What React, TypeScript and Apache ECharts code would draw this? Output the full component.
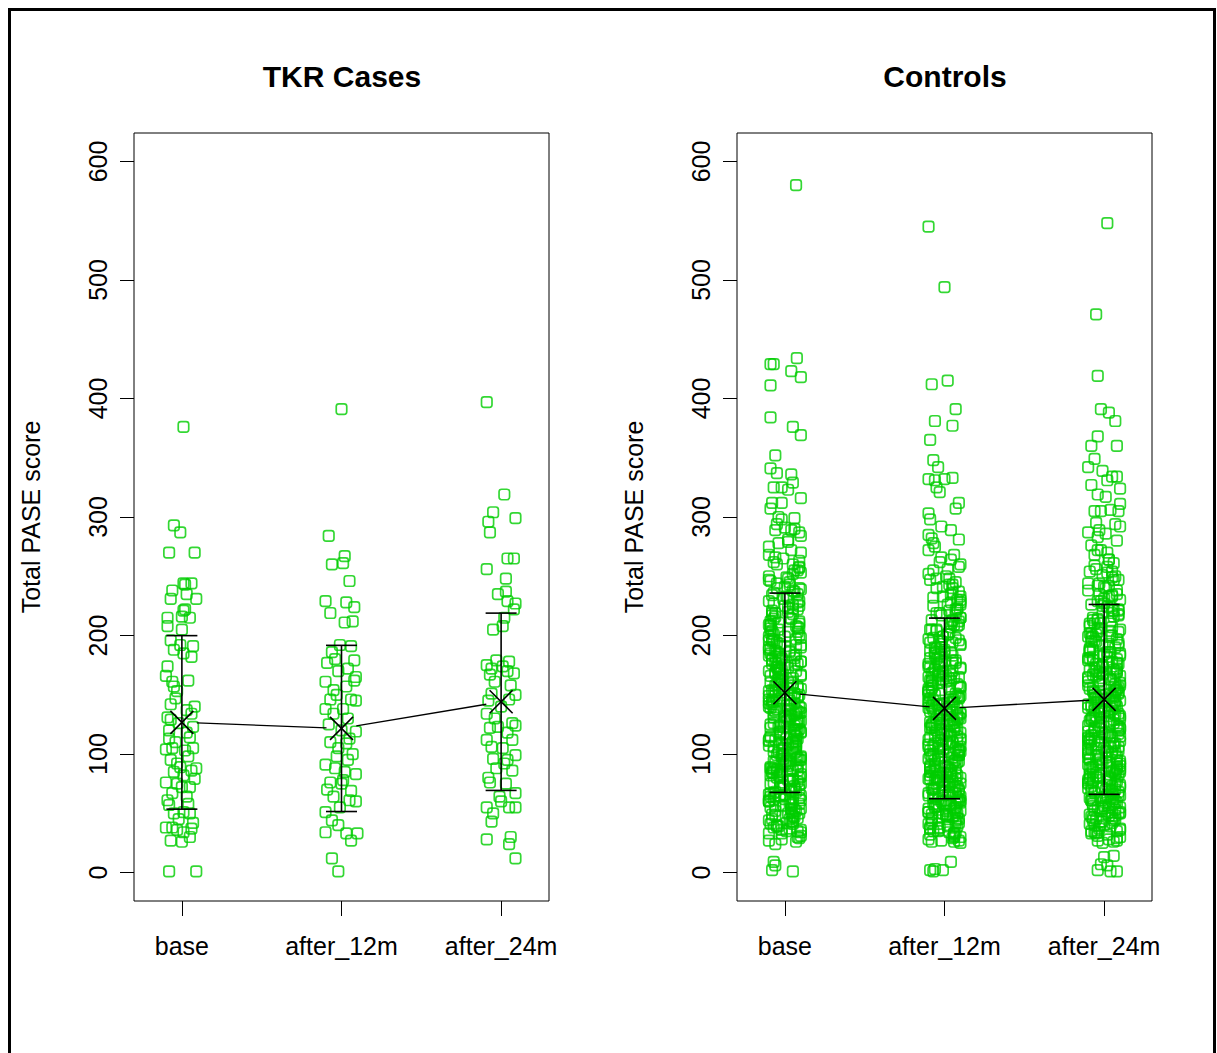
import React, { useEffect, useRef } from 'react';
import * as echarts from 'echarts';

const categories = ['base', 'after_12m', 'after_24m'];
const yTicks = [0, 100, 200, 300, 400, 500, 600];
const panelTitles = ['TKR Cases', 'Controls'];
const yAxisTitle = 'Total PASE score';

// TKR cases: values and horizontal jitter (category units)
const tkrBaseVals = [376, 293, 287, 270, 270, 244, 244, 243, 238, 231, 235, 231, 222, 221, 215, 216, 215, 208, 205, 196, 192, 188, 191, 182, 185, 174, 166, 161, 157, 162, 153, 147, 140, 137, 131, 129, 134, 123, 114, 120, 113, 104, 105, 105, 103, 95, 89, 88, 79, 85, 82, 75, 72, 76, 72, 61, 57, 50, 51, 50, 38, 38, 36, 34, 37, 27, 26, 30, 1, 1, 98, 92, 67, 64, 45, 42, 118, 126, 142, 110, 86, 58];
const tkrBaseJit = [0.01, -0.05, -0.01, -0.08, 0.08, 0.01, 0.06, 0.02, -0.06, -0.07, 0.03, 0.09, 0.02, 0.01, 0.05, 0.0, -0.09, -0.09, 0.0, -0.07, -0.01, -0.05, 0.07, 0.06, 0.01, -0.09, -0.1, -0.06, -0.05, 0.04, -0.03, -0.04, 0.08, 0.03, -0.09, -0.07, 0.06, 0.07, 0.05, -0.08, -0.08, -0.1, -0.06, 0.07, 0.02, -0.07, -0.01, 0.09, 0.08, -0.05, 0.01, -0.03, 0.05, -0.1, 0.0, -0.09, -0.08, -0.05, 0.01, 0.05, -0.06, -0.1, -0.03, 0.01, 0.06, -0.07, 0.0, 0.05, -0.08, 0.09, 0.04, -0.03, -0.06, 0.03, -0.02, 0.07, 0.03, -0.02, -0.07, -0.04, 0.06, 0.04];
const tkr12Vals = [391, 284, 260, 261, 267, 246, 229, 219, 228, 224, 211, 212, 192, 191, 186, 179, 177, 170, 165, 162, 161, 154, 157, 146, 138, 146, 145, 138, 134, 119, 113, 110, 109, 98, 95, 91, 83, 78, 76, 69, 64, 61, 51, 60, 75, 44, 40, 34, 33, 33, 27, 12, 1, 88, 100, 125, 130, 150, 172, 85, 55, 70, 120, 105, 180];
const tkr12Jit = [0.0, -0.08, -0.06, 0.01, 0.02, 0.05, -0.1, -0.07, 0.03, 0.08, 0.02, 0.07, -0.01, 0.06, -0.06, 0.08, -0.09, -0.02, 0.09, 0.08, -0.1, -0.05, 0.03, -0.07, 0.01, 0.06, 0.09, -0.1, -0.05, 0.09, 0.05, -0.07, 0.03, -0.03, 0.04, -0.1, 0.09, 0.01, -0.07, 0.06, -0.05, 0.05, -0.1, 0.09, 0.0, -0.06, -0.02, -0.1, 0.03, 0.1, 0.06, -0.06, -0.02, -0.04, 0.07, -0.08, 0.04, -0.03, 0.04, 0.02, -0.01, -0.09, 0.0, -0.02, -0.04];
const tkr24Vals = [397, 319, 304, 296, 299, 287, 265, 265, 256, 248, 235, 237, 227, 229, 222, 205, 208, 215, 175, 179, 170, 168, 167, 174, 161, 151, 150, 146, 134, 126, 123, 122, 124, 112, 112, 106, 105, 99, 96, 95, 88, 86, 76, 75, 67, 64, 55, 55, 50, 43, 55, 28, 30, 24, 12, 140, 158, 178, 130, 118, 80, 92, 60, 145, 172];
const tkr24Jit = [-0.09, 0.02, -0.05, -0.08, 0.09, -0.07, 0.04, 0.08, -0.09, 0.03, -0.02, 0.03, 0.09, 0.04, 0.08, -0.05, 0.01, 0.02, -0.09, -0.03, 0.04, 0.08, -0.07, 0.01, -0.04, -0.06, 0.09, 0.05, -0.09, 0.07, -0.02, -0.07, 0.09, -0.09, 0.07, -0.06, 0.01, 0.09, -0.05, 0.04, -0.03, 0.07, -0.07, 0.03, 0.09, -0.01, 0.05, -0.09, -0.05, -0.06, 0.09, -0.09, 0.06, 0.05, 0.09, 0.0, 0.06, 0.05, -0.04, 0.04, -0.08, 0.02, 0.0, -0.08, -0.06];

// Controls: main body values (jitter from the two jitter lists), plus outliers with own jitter
const ctlJitter = [0.03, -0.07, 0.09, -0.02, 0.06, -0.1, 0.01, 0.08, -0.05, 0.05, -0.09, 0.1, -0.03, 0.06, -0.07, 0.09, -0.1, 0.02, 0.07, -0.06, 0.04, -0.08, 0.1, -0.01, 0.05, -0.04, 0.09, -0.09, 0.0, 0.07, -0.06, 0.03, -0.1, 0.1, -0.02, 0.05, -0.08, 0.08, -0.05, 0.02, -0.1, 0.07, -0.03, 0.09, -0.06, 0.04, -0.09, 0.01, 0.1, -0.04, 0.06, -0.08, 0.08, -0.01, 0.03, -0.07, 0.1, -0.1, 0.05, -0.02];
const ctlJitter2 = [-0.04, 0.08, -0.09, 0.02, -0.06, 0.1, -0.01, 0.05, -0.08, 0.07, -0.03, 0.09, -0.1, 0.04, -0.05, 0.06, -0.07, 0.0, 0.1, -0.02, 0.08, -0.09, 0.03, -0.06, 0.09, -0.01, 0.06, -0.08, 0.02, -0.1, 0.07, -0.04, 0.05, -0.07, 0.1, -0.03, 0.01, -0.09, 0.08, -0.05, 0.04, -0.1, 0.06, -0.02, 0.09, -0.07, 0.03, -0.06, 0.07, -0.01, 0.02, -0.08, 0.05, -0.04, 0.1, -0.09, 0.0, -0.05, 0.08, -0.03];
const ctlBaseVals = [
  145, 62, 210, 98, 175, 33, 128, 255, 87, 160, 41, 192, 118, 73, 236, 150, 27, 108, 184, 56,
  132, 221, 95, 167, 48, 278, 140, 82, 199, 115, 64, 245, 153, 36, 171, 104, 217, 77, 138, 90,
  188, 52, 124, 263, 158, 70, 206, 113, 31, 179, 143, 85, 228, 100, 59, 196, 135, 268, 79, 162,
  45, 214, 121, 93, 181, 66, 249, 148, 39, 110, 202, 155, 83, 290, 126, 58, 170, 232, 102, 24,
  141, 195, 75, 117, 260, 163, 50, 88, 225, 134, 68, 186, 107, 284, 152, 43, 176, 97, 240, 129,
  61, 208, 147, 80, 112, 272, 166, 35, 190, 123, 71, 219, 156, 92, 243, 137, 54, 183, 105, 298,
  130, 76, 200, 159, 47, 229, 114, 86, 173, 252, 139, 65, 193, 101, 38, 212, 146, 281, 91, 168,
  57, 204, 119, 74, 238, 154, 29, 185, 127, 96, 266, 142, 60, 178, 109, 223, 84, 136, 294, 161,
  44, 197, 116, 258, 149, 69, 209, 131, 89, 174, 53, 234, 120, 99, 187, 144, 34, 247, 78, 165,
  215, 106, 63, 180, 133, 275, 94, 157, 40, 226, 125, 81, 191, 151, 67, 287, 111, 203, 26, 169
];
const ctlBaseVals2 = [
  101, 176, 64, 138, 219, 83, 155, 47, 197, 120, 72, 240, 143, 58, 186, 109, 262, 91, 167, 36,
  129, 208, 77, 152, 95, 231, 118, 49, 173, 140, 68, 205, 110, 84, 253, 161, 42, 189, 126, 99,
  214, 60, 147, 181, 74, 227, 134, 52, 170, 105, 279, 88, 158, 39, 198, 122, 66, 244, 148, 81,
  185, 113, 55, 223, 136, 97, 265, 164, 45, 192, 117, 70, 209, 150, 86, 237, 131, 62, 178, 103,
  30, 160, 94, 216, 127, 57, 183, 144, 78, 250, 107, 169, 41, 201, 139, 65, 233, 115, 90, 174,
  51, 196, 124, 85, 257, 153, 37, 187, 111, 73, 220, 142, 59, 171, 98, 246, 132, 80, 207, 119,
  163, 46, 212, 137, 93, 270, 157, 63, 180, 106, 76, 229, 149, 54, 194, 121, 87, 241, 166, 33,
  203, 114, 69, 177, 135, 96, 255, 146, 50, 190, 125, 82, 218, 102, 61, 172, 141, 89, 235, 159,
  43, 199, 116, 71, 225, 133, 92, 182, 108, 56, 248, 154, 79, 211, 128, 67, 191, 145, 35, 168,
  104, 222, 75, 156, 48, 239, 123, 86, 179, 137, 64, 206, 112, 53, 260, 151, 94, 175, 118, 28
];
const ctlBaseOutVals = [580, 434, 429, 429, 423, 418, 411, 384, 376, 369, 352, 341, 337, 336, 329, 325, 325, 323, 316, 312, 312, 307, 300, 299, 289, 291, 289, 9, 2, 1, 6];
const ctlBaseOutJit = [0.07, 0.075, -0.09, -0.07, 0.04, 0.1, -0.09, -0.09, 0.05, 0.1, -0.06, -0.09, -0.05, 0.04, 0.05, -0.02, -0.07, 0.02, 0.1, -0.08, -0.02, -0.09, -0.04, 0.06, -0.06, 0.0, 0.04, -0.07, -0.08, 0.05, -0.06];
const ctl12Vals = [
  128, 55, 190, 86, 162, 30, 117, 240, 76, 147, 38, 178, 105, 64, 221, 139, 25, 97, 170, 49,
  121, 205, 84, 153, 44, 262, 131, 71, 186, 103, 58, 228, 141, 33, 158, 93, 199, 68, 126, 80,
  174, 47, 112, 248, 145, 62, 193, 101, 28, 166, 132, 75, 213, 89, 52, 182, 123, 255, 70, 150,
  40, 198, 109, 83, 168, 59, 233, 136, 35, 99, 187, 143, 73, 275, 115, 51, 157, 217, 91, 26,
  129, 180, 66, 106, 245, 151, 45, 78, 210, 122, 61, 172, 96, 268, 140, 39, 163, 87, 225, 118,
  54, 194, 135, 72, 100, 258, 154, 31, 176, 111, 63, 204, 144, 82, 230, 125, 48, 169, 94, 285,
  119, 67, 185, 148, 42, 215, 104, 77, 160, 237, 127, 57, 179, 90, 34, 197, 134, 266, 81, 155,
  50, 189, 108, 65, 222, 142, 27, 171, 116, 85, 250, 130, 53, 164, 98, 208, 74, 124, 278, 149,
  41, 183, 107, 243, 137, 60, 195, 120, 79, 161, 46, 219, 110, 88, 173, 133, 32, 232, 69, 152,
  201, 95, 56, 167, 124, 260, 84, 146, 37, 212, 114, 72, 177, 138, 58, 272, 102, 188, 29, 156
];
const ctl12Vals2 = [
  92, 165, 58, 128, 205, 76, 143, 42, 184, 110, 66, 226, 132, 52, 173, 99, 248, 84, 155, 33,
  118, 196, 70, 140, 87, 217, 108, 45, 161, 129, 62, 192, 100, 77, 240, 149, 38, 176, 115, 90,
  201, 55, 135, 168, 68, 213, 123, 47, 157, 96, 264, 80, 146, 35, 185, 112, 60, 230, 136, 74,
  172, 103, 50, 209, 125, 89, 252, 151, 41, 179, 107, 64, 195, 138, 79, 223, 120, 57, 165, 94,
  27, 148, 86, 203, 116, 52, 170, 133, 71, 236, 98, 156, 37, 188, 127, 59, 219, 105, 82, 162,
  47, 183, 113, 78, 243, 141, 34, 174, 101, 67, 207, 130, 54, 158, 90, 233, 121, 73, 194, 109,
  150, 42, 199, 126, 85, 256, 145, 58, 167, 97, 70, 215, 137, 49, 181, 111, 80, 228, 153, 30,
  190, 104, 63, 164, 124, 88, 241, 134, 46, 177, 114, 75, 205, 93, 56, 159, 129, 81, 222, 147,
  39, 186, 106, 65, 212, 122, 84, 169, 99, 51, 235, 142, 72, 198, 117, 61, 178, 133, 32, 155,
  95, 209, 69, 144, 44, 226, 112, 79, 166, 126, 58, 193, 102, 48, 247, 139, 86, 162, 108, 26
];
const ctl12OutVals = [545, 494, 412, 415, 391, 381, 377, 365, 348, 342, 332, 331, 332, 333, 325, 321, 312, 307, 303, 298, 292, 289, 281, 282, 2, 3, 2, 9, 1];
const ctl12OutJit = [-0.1, 0.0, -0.08, 0.02, 0.07, -0.06, 0.05, -0.09, -0.07, -0.04, -0.1, -0.06, 0.0, 0.05, -0.05, -0.03, 0.09, 0.07, -0.1, -0.09, -0.02, 0.04, 0.09, -0.08, -0.09, -0.06, -0.01, 0.04, -0.07];
const ctl24Vals = [
  138, 60, 202, 92, 170, 32, 124, 250, 82, 156, 40, 186, 112, 70, 230, 146, 26, 104, 180, 54,
  128, 215, 90, 161, 46, 272, 136, 78, 194, 110, 62, 238, 150, 35, 166, 100, 210, 74, 134, 86,
  182, 50, 119, 258, 153, 68, 200, 108, 30, 174, 140, 80, 222, 96, 56, 190, 130, 264, 76, 158,
  43, 207, 116, 89, 176, 64, 244, 144, 37, 106, 196, 151, 79, 286, 121, 55, 165, 226, 98, 25,
  135, 188, 72, 113, 254, 159, 48, 85, 218, 131, 66, 181, 103, 280, 148, 42, 171, 94, 235, 126,
  58, 203, 142, 77, 109, 268, 163, 33, 185, 118, 69, 213, 152, 88, 241, 133, 52, 178, 101, 292,
  127, 73, 195, 155, 45, 224, 111, 84, 169, 247, 137, 63, 189, 97, 36, 206, 143, 276, 87, 164,
  55, 199, 115, 71, 233, 149, 28, 179, 123, 93, 261, 139, 59, 172, 105, 219, 81, 132, 289, 157,
  44, 192, 114, 253, 145, 67, 204, 129, 87, 168, 51, 229, 117, 95, 184, 141, 34, 242, 75, 160,
  211, 102, 61, 177, 132, 270, 91, 154, 39, 221, 122, 79, 187, 147, 65, 283, 107, 198, 27, 167
];
const ctl24Vals2 = [
  97, 171, 61, 134, 213, 80, 150, 45, 191, 116, 69, 234, 139, 55, 181, 105, 256, 88, 162, 34,
  124, 202, 74, 147, 92, 225, 114, 47, 168, 136, 65, 199, 106, 81, 247, 156, 40, 183, 121, 95,
  208, 57, 142, 176, 71, 221, 130, 50, 165, 101, 272, 85, 153, 37, 192, 118, 63, 238, 143, 78,
  179, 109, 52, 217, 131, 93, 259, 159, 43, 186, 113, 67, 203, 145, 83, 231, 127, 59, 173, 99,
  29, 155, 90, 210, 122, 54, 178, 140, 75, 244, 103, 164, 39, 195, 134, 62, 227, 111, 87, 169,
  49, 190, 120, 82, 251, 148, 35, 182, 107, 70, 214, 138, 56, 166, 95, 240, 128, 77, 201, 115,
  158, 44, 206, 132, 89, 264, 152, 60, 175, 102, 73, 223, 144, 51, 188, 117, 84, 235, 161, 31,
  197, 110, 66, 172, 130, 92, 249, 141, 48, 185, 120, 78, 212, 98, 58, 167, 136, 85, 229, 154,
  41, 193, 111, 68, 219, 129, 89, 177, 104, 53, 242, 149, 76, 205, 124, 64, 186, 140, 33, 163,
  100, 216, 72, 151, 46, 233, 119, 83, 174, 132, 61, 200, 108, 50, 254, 146, 91, 170, 114, 27
];
const ctl24OutVals = [548, 471, 419, 391, 388, 381, 368, 360, 360, 349, 342, 339, 334, 334, 327, 331, 324, 319, 317, 311, 305, 305, 306, 305, 294, 287, 295, 13, 14, 7, 6, 1, 2, 1];
const ctl24OutJit = [0.02, -0.05, -0.04, -0.02, 0.03, 0.07, -0.04, 0.08, -0.08, -0.06, -0.1, -0.01, 0.05, 0.08, -0.08, 0.02, 0.1, -0.04, 0.01, 0.1, -0.06, -0.02, 0.04, 0.09, 0.07, -0.1, -0.05, 0.0, 0.06, -0.02, 0.02, 0.08, -0.04, 0.04];

// group means and standard deviations
const tkrMeans = [126.7, 121.6, 144.1];
const tkrSD = [73.2, 70.1, 74.8];
const ctlMeans = [151.7, 138.5, 146.1];
const ctlSD = [84.1, 76.2, 80.1];

const FONT = 'Liberation Sans, Arial, Helvetica, sans-serif';
const GREEN = '#00CD00';

function pairs(g: number, vals: number[], jit: number[]) {
  return vals.map((v, i) => [g + 1 + jit[i], v]);
}
function cycled(g: number, vals: number[], jit: number[], offset: number) {
  return vals.map((v, i) => [g + 1 + jit[(i + offset) % jit.length], v]);
}

function scatterSeries(idx: number, data: number[][]) {
  return {
    type: 'scatter',
    xAxisIndex: idx,
    yAxisIndex: idx,
    data,
    symbol: 'roundRect',
    symbolSize: 10.5,
    silent: true,
    large: false,
    itemStyle: { color: 'rgba(0,0,0,0)', borderColor: GREEN, borderWidth: 1.7 },
    z: 2,
  };
}

function meanSeries(idx: number, means: number[], sds: number[]) {
  return {
    type: 'custom',
    xAxisIndex: idx,
    yAxisIndex: idx,
    silent: true,
    z: 5,
    data: means.map((m, i) => [i + 1, m, sds[i]]),
    encode: { x: 0, y: 1 },
    renderItem: (params: any, api: any) => {
      const i = params.dataIndex;
      const x = api.value(0);
      const m = api.value(1);
      const sd = api.value(2);
      const c = api.coord([x, m]);
      const top = api.coord([x, m + sd]);
      const bot = api.coord([x, m - sd]);
      const ln = (x1: number, y1: number, x2: number, y2: number, w?: number) => ({
        type: 'line',
        shape: { x1, y1, x2, y2 },
        style: { stroke: '#000', lineWidth: w || 1.6 },
      });
      const h = 11.5;
      const cap = 15.5;
      const children: any[] = [
        ln(top[0], top[1], bot[0], bot[1]),
        ln(top[0] - cap, top[1], top[0] + cap, top[1]),
        ln(bot[0] - cap, bot[1], bot[0] + cap, bot[1]),
        ln(c[0] - h, c[1] - h, c[0] + h, c[1] + h),
        ln(c[0] - h, c[1] + h, c[0] + h, c[1] - h),
      ];
      if (i < means.length - 1) {
        const n = api.coord([i + 2, means[i + 1]]);
        const dx = n[0] - c[0];
        const dy = n[1] - c[1];
        const len = Math.sqrt(dx * dx + dy * dy);
        const gap = 15;
        const ux = dx / len;
        const uy = dy / len;
        children.push(ln(c[0] + ux * gap, c[1] + uy * gap, n[0] - ux * gap, n[1] - uy * gap, 1.3));
      }
      return { type: 'group', children };
    },
  };
}

export default function App() {
  const ref = useRef<HTMLDivElement>(null);
  useEffect(() => {
    if (!ref.current) return;
    const chart = echarts.init(ref.current, null, { renderer: 'svg' });
    const gridLefts = [134, 737];
    const grids = gridLefts.map((l) => ({
      left: l,
      top: 133,
      width: 415,
      height: 768,
      show: true,
      borderColor: '#000',
      borderWidth: 1,
      backgroundColor: 'rgba(0,0,0,0)',
      containLabel: false,
    }));
    const xAxes = [0, 1].map((i) => ({
      gridIndex: i,
      type: 'value',
      min: 0.7,
      max: 3.3,
      splitLine: { show: false },
      axisLine: { show: false, onZero: false },
      axisTick: {
        show: true,
        customValues: [1, 2, 3],
        length: 15,
        lineStyle: { color: '#000', width: 1 },
      },
      axisLabel: {
        customValues: [1, 2, 3],
        formatter: (v: number) => categories[Math.round(v) - 1] || '',
        margin: 32,
        fontSize: 25,
        color: '#000',
        fontFamily: FONT,
      },
    }));
    const yAxes = [0, 1].map((i) => ({
      gridIndex: i,
      type: 'value',
      min: -24,
      max: 624,
      splitLine: { show: false },
      axisLine: { show: false, onZero: false },
      axisTick: {
        show: true,
        customValues: yTicks,
        length: 14,
        lineStyle: { color: '#000', width: 1 },
      },
      axisLabel: {
        customValues: yTicks,
        rotate: 90,
        margin: 24,
        fontSize: 25,
        color: '#000',
        fontFamily: FONT,
      },
      name: yAxisTitle,
      nameLocation: 'middle',
      nameRotate: 90,
      nameGap: 91,
      nameTextStyle: { fontSize: 25, color: '#000', fontFamily: FONT },
    }));

    const series: any[] = [
      scatterSeries(0, pairs(0, tkrBaseVals, tkrBaseJit)),
      scatterSeries(0, pairs(1, tkr12Vals, tkr12Jit)),
      scatterSeries(0, pairs(2, tkr24Vals, tkr24Jit)),
      scatterSeries(1, cycled(0, ctlBaseVals, ctlJitter, 0)
        .concat(cycled(0, ctlBaseVals2, ctlJitter2, 0))
        .concat(pairs(0, ctlBaseOutVals, ctlBaseOutJit))),
      scatterSeries(1, cycled(1, ctl12Vals, ctlJitter, 17)
        .concat(cycled(1, ctl12Vals2, ctlJitter2, 23))
        .concat(pairs(1, ctl12OutVals, ctl12OutJit))),
      scatterSeries(1, cycled(2, ctl24Vals, ctlJitter, 34)
        .concat(cycled(2, ctl24Vals2, ctlJitter2, 41))
        .concat(pairs(2, ctl24OutVals, ctl24OutJit))),
      meanSeries(0, tkrMeans, tkrSD),
      meanSeries(1, ctlMeans, ctlSD),
    ];

    chart.setOption({
      animation: false,
      backgroundColor: '#fff',
      grid: grids,
      xAxis: xAxes,
      yAxis: yAxes,
      series,
      graphic: [
        {
          type: 'rect',
          shape: { x: 9.5, y: 9.5, width: 1205, height: 1100 },
          style: { fill: 'none', stroke: '#000', lineWidth: 3 },
          silent: true,
        },
        {
          type: 'text',
          x: 342,
          y: 76,
          style: {
            text: panelTitles[0],
            textAlign: 'center',
            textVerticalAlign: 'middle',
            fontSize: 30,
            fontWeight: 'bold',
            fontFamily: FONT,
            fill: '#000',
          },
        },
        {
          type: 'text',
          x: 945,
          y: 76,
          style: {
            text: panelTitles[1],
            textAlign: 'center',
            textVerticalAlign: 'middle',
            fontSize: 30,
            fontWeight: 'bold',
            fontFamily: FONT,
            fill: '#000',
          },
        },
      ],
    });
    return () => chart.dispose();
  }, []);
  return (
    <div
      ref={ref}
      style={{ position: 'fixed', left: 0, top: 0, width: 1217, height: 1053, background: '#fff' }}
    />
  );
}
